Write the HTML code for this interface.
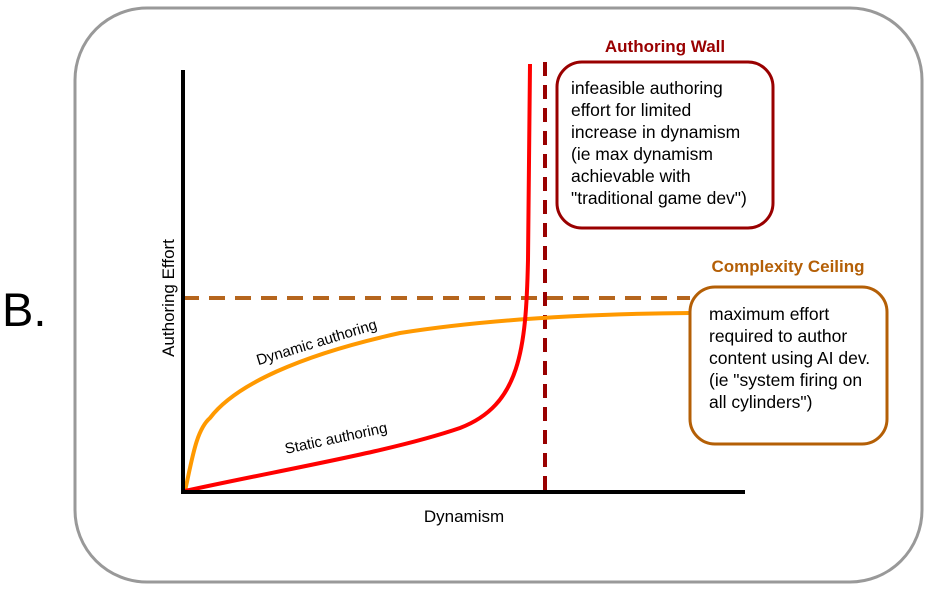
<!DOCTYPE html>
<html><head><style>body{margin:0;background:#fff}svg{display:block}</style></head><body>
<svg width="932" height="590" viewBox="0 0 932 590" xmlns="http://www.w3.org/2000/svg" font-family="Liberation Sans, Arial, sans-serif">
<rect x="75" y="8" width="847" height="574" rx="72" fill="#fff" stroke="#999" stroke-width="3"/>
<text x="2" y="326" font-size="47" fill="#000">B.</text>
<line x1="545" y1="62" x2="545" y2="492" stroke="#990000" stroke-width="4" stroke-dasharray="14,9"/>
<line x1="183" y1="298" x2="690" y2="298" stroke="#b5651d" stroke-width="4" stroke-dasharray="16,10"/>
<path d="M185,491 C192,460 196,430 210,418 C235,385 300,355 400,333 C470,322 560,314 690,313" fill="none" stroke="#ff9900" stroke-width="4"/>
<path d="M185,491 C280,470 390,452 460,428 C520,405 526,350 528,260 C529,180 529,120 530,64" fill="none" stroke="#ff0000" stroke-width="4"/>
<line x1="183" y1="70" x2="183" y2="494" stroke="#000" stroke-width="4"/>
<line x1="181" y1="492" x2="745" y2="492" stroke="#000" stroke-width="4"/>
<text x="0" y="0" font-size="15" transform="translate(318,347) rotate(-17)" text-anchor="middle">Dynamic authoring</text>
<text x="0" y="0" font-size="15" transform="translate(337,443) rotate(-12)" text-anchor="middle">Static authoring</text>
<text x="0" y="0" font-size="17" transform="translate(174,298) rotate(-90)" text-anchor="middle">Authoring Effort</text>
<text x="464" y="522" font-size="17" text-anchor="middle">Dynamism</text>
<text x="665" y="52" font-size="17" font-weight="bold" fill="#990000" text-anchor="middle">Authoring Wall</text>
<rect x="557" y="62" width="216" height="166" rx="25" fill="#fff" stroke="#990000" stroke-width="3"/>
<g font-size="17.5" fill="#000">
<text x="571" y="94">infeasible authoring</text>
<text x="571" y="116">effort for limited</text>
<text x="571" y="138">increase in dynamism</text>
<text x="571" y="160">(ie max dynamism</text>
<text x="571" y="182">achievable with</text>
<text x="571" y="204">"traditional game dev")</text>
</g>
<text x="788" y="272" font-size="17" font-weight="bold" fill="#b45f06" text-anchor="middle">Complexity Ceiling</text>
<rect x="690" y="287" width="197" height="157" rx="25" fill="#fff" stroke="#b45f06" stroke-width="3"/>
<g font-size="17.5" fill="#000">
<text x="709" y="320">maximum effort</text>
<text x="709" y="342">required to author</text>
<text x="709" y="364">content using AI dev.</text>
<text x="709" y="386">(ie "system firing on</text>
<text x="709" y="408">all cylinders")</text>
</g>
</svg>
</body></html>
